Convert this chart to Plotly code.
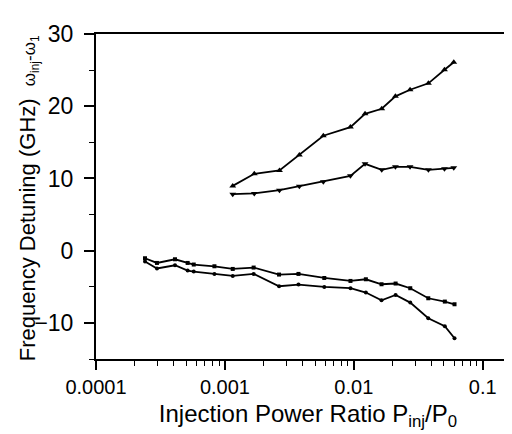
import plotly.graph_objects as go

# Upper pair (x shared)
x_up = [0.00115, 0.00169, 0.00265, 0.00378, 0.00580, 0.00941, 0.01222, 0.01646,
        0.02102, 0.0273, 0.0379, 0.0505, 0.0596]
tri_up = [8.97, 10.64, 11.11, 13.23, 15.91, 17.11, 18.95, 19.65, 21.37, 22.28, 23.17, 25.05, 26.08]
tri_down = [7.82, 7.92, 8.38, 8.93, 9.53, 10.36, 12.02, 11.19, 11.61, 11.61, 11.19, 11.33, 11.47]

# Lower pair (x shared)
x_low = [0.000240, 0.000297, 0.000410, 0.000514, 0.000573, 0.000829, 0.00115, 0.00167,
         0.00263, 0.00372, 0.00590, 0.00942, 0.0124, 0.0164, 0.0211, 0.0274, 0.0378,
         0.0508, 0.0604]
squares = [-1.05, -1.70, -1.19, -1.70, -1.92, -2.16, -2.53, -2.34, -3.31, -3.22, -3.78,
           -4.19, -3.96, -4.65, -4.55, -5.20, -6.59, -7.05, -7.42]
circles = [-1.50, -2.47, -2.02, -2.75, -2.89, -3.22, -3.50, -3.22, -4.93, -4.69, -5.02,
           -5.20, -5.80, -6.87, -6.13, -7.19, -9.36, -10.47, -12.13]

y_ticks = [-10, 0, 10, 20, 30]
x_ticks = [0.0001, 0.001, 0.01, 0.1]
x_tick_labels = ["0.0001", "0.001", "0.01", "0.1"]
x_minor = [m * d for d in (0.0001, 0.001, 0.01) for m in range(2, 10)]

FONT = "Liberation Sans, Arial, Helvetica, sans-serif"
line = dict(color="black", width=1.8)

fig = go.Figure()
fig.add_trace(go.Scatter(x=x_up, y=tri_up, mode="lines+markers", line=line,
                         marker=dict(symbol="triangle-up", size=6, color="black")))
fig.add_trace(go.Scatter(x=x_up, y=tri_down, mode="lines+markers", line=line,
                         marker=dict(symbol="triangle-down", size=6, color="black")))
fig.add_trace(go.Scatter(x=x_low, y=squares, mode="lines+markers", line=line,
                         marker=dict(symbol="square", size=4, color="black")))
fig.add_trace(go.Scatter(x=x_low, y=circles, mode="lines+markers", line=line,
                         marker=dict(symbol="circle", size=4, color="black")))

fig.update_layout(
    width=512, height=434,
    margin=dict(l=88, r=0, t=26, b=83),
    paper_bgcolor="white", plot_bgcolor="white",
    showlegend=False,
    font=dict(family=FONT, size=18, color="black"),
    xaxis=dict(
        type="log", range=[-4, -0.711],
        tickvals=x_ticks, ticktext=x_tick_labels,
        ticks="outside", ticklen=9, tickwidth=1.6, tickcolor="black",
        minor=dict(tickvals=x_minor, ticks="outside", ticklen=5, tickwidth=1.3,
                   tickcolor="black", showgrid=False),
        showline=True, linecolor="black", linewidth=2, mirror=True,
        showgrid=False, zeroline=False,
        tickfont=dict(size=20),
        title=dict(text="Injection Power Ratio P<sub>inj</sub>/P<sub>0</sub>",
                   font=dict(size=24), standoff=8),
    ),
    yaxis=dict(
        range=[-15, 30],
        tickvals=y_ticks,
        ticks="outside", ticklen=10, tickwidth=1.6, tickcolor="black",
        minor=dict(dtick=5, ticks="outside", ticklen=5, tickwidth=1.3,
                   tickcolor="black", showgrid=False),
        showline=True, linecolor="black", linewidth=2, mirror=False,
        showgrid=False, zeroline=False,
        tickfont=dict(size=23),
        ticklabelstandoff=6,
    ),
)

fig.add_annotation(
    xref="paper", yref="paper", x=-0.160, y=0.495,
    xanchor="center", yanchor="middle", textangle=-90, showarrow=False,
    text="Frequency Detuning (GHz)  <span style='font-size:17px'>ω<sub>inj</sub>-ω<sub>1</sub></span>",
    font=dict(family=FONT, size=22, color="black"),
)

fig.write_html("out.html")
